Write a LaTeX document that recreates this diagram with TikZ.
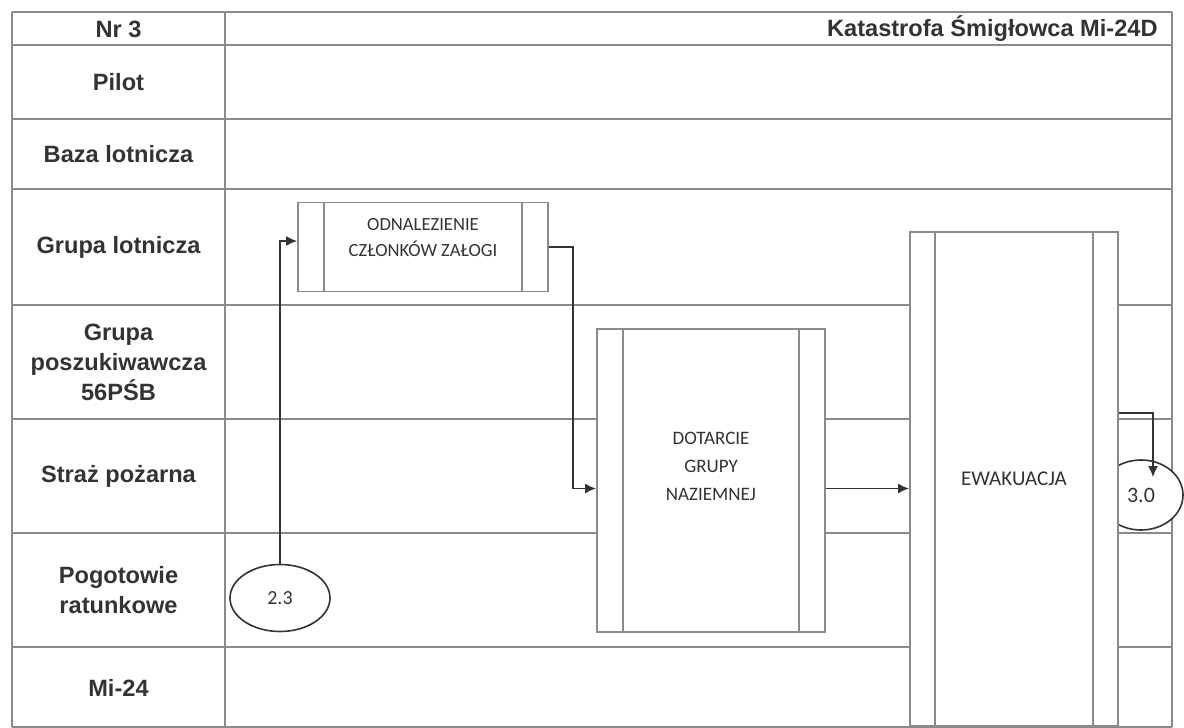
\documentclass[tikz,border=0pt]{standalone}
\usepackage{fontspec}
\setmainfont{Liberation Sans}
\newfontfamily\boxfont{Carlito}
\usepackage{xcolor}
\definecolor{lanegray}{HTML}{8A8A8A}
\definecolor{linkgray}{HTML}{333333}
\usepackage{tikz}
\usetikzlibrary{positioning,arrows.meta,shapes.geometric,calc}
\newcommand{\procbar}{13pt}
\tikzset{
  laneline/.style={draw=lanegray, line width=0.9pt},
  lane/.style    ={font=\fontsize{11.8}{15}\selectfont\bfseries, text=black!80,
                   align=center, inner sep=0pt},
  proc/.style    ={rectangle, draw=lanegray, line width=0.9pt, fill=white, align=center,
                   inner sep=0pt, text=black!80, font=\boxfont\fontsize{9.5}{14}\selectfont,
                   path picture={
                     \draw[lanegray, line width=0.9pt]
                       ([xshift=\procbar]path picture bounding box.north west) --
                       ([xshift=\procbar]path picture bounding box.south west)
                       ([xshift=-\procbar]path picture bounding box.north east) --
                       ([xshift=-\procbar]path picture bounding box.south east);}},
  oval/.style    ={ellipse, draw=linkgray, line width=0.8pt, fill=white, inner sep=0pt,
                   text=black!80, font=\boxfont\fontsize{10}{12}\selectfont},
  link/.style    ={-{Latex[length=5.5pt,width=5pt]}, draw=linkgray, line width=0.9pt},
}

\begin{document}
\begin{tikzpicture}[x=0.5pt, y=-0.5pt]
  \useasboundingbox (0,0) rectangle (1184,728);
  % lanes
  \foreach \yy in {12,45,119,189,305,419,533,647,727}
    \draw[laneline] (12,\yy) -- (1172,\yy);
  \foreach \xx in {12,225,1172}
    \draw[laneline] (\xx,12) -- (\xx,727);
  \node[lane] (lnr)    at (118.5,29)  {Nr 3};
  \node[lane, anchor=east] (title) at (1158,29) {Katastrofa Śmigłowca Mi-24D};
  \node[lane] (lpilot) at (118.5,82)  {Pilot};
  \node[lane] (lbaza)  at (118.5,154) {Baza lotnicza};
  \node[lane] (lgrupa) at (118.5,247) {Grupa lotnicza};
  \node[lane] (lposz)  at (118.5,362) {Grupa\\poszukiwawcza\\56PŚB};
  \node[lane] (lstraz) at (118.5,476) {Straż pożarna};
  \node[lane] (lpogot) at (118.5,590) {Pogotowie\\ratunkowe};
  \node[lane] (lmi)    at (118.5,688) {Mi-24};
  % steps
  \node[oval, minimum width=50pt, minimum height=33.5pt] (e23) at (280,598) {2.3};
  \node[oval, minimum width=42pt, minimum height=35pt, font=\boxfont\fontsize{11}{12}\selectfont]
       (e30) at (1141,495) {\raisebox{-3pt}{3.0}};
  \node[proc, minimum width=125pt, minimum height=44.5pt, font=\boxfont\fontsize{9.3}{13}\selectfont]
       (odn) at (423,247) {ODNALEZIENIE\\CZŁONKÓW ZAŁOGI\\[-3pt]};
  \node[proc, minimum width=114pt, minimum height=151.5pt] (dot) at (711,480.5)
       {DOTARCIE\\GRUPY\\NAZIEMNEJ\\};
  \node[proc, minimum width=104pt, minimum height=247pt, font=\boxfont\fontsize{10.5}{14}\selectfont,
        /utils/exec={\renewcommand{\procbar}{12.5pt}}] (ewak) at (1014,479) {EWAKUACJA};
  % links
  \draw[link] (e23.north) |- ([yshift=3pt]odn.west);
  \draw[link] (odn.east) -- ++(12pt,0) |- ([yshift=-4pt]dot.west);
  \draw[link] ([yshift=-4pt]dot.east) -- ([yshift=-4pt]dot.east -| ewak.west);
  \draw[link] ([yshift=33pt]ewak.east) -| ([xshift=6pt,yshift=-9pt]e30.north);
\end{tikzpicture}
\end{document}
